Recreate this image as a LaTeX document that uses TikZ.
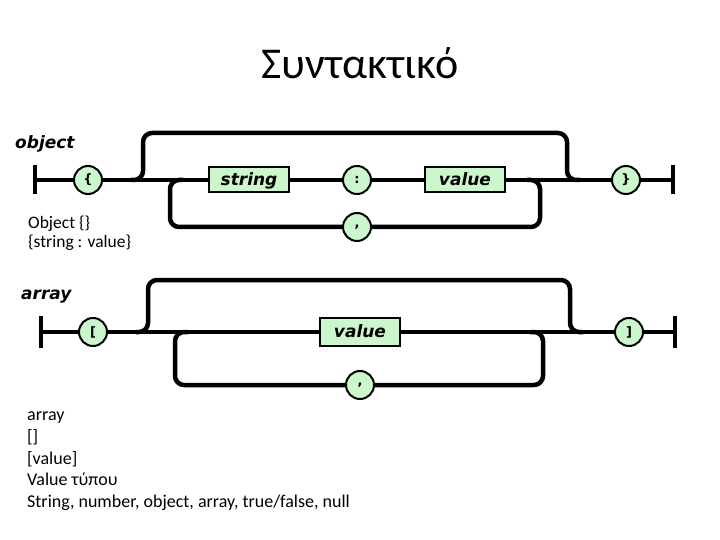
\documentclass[tikz,border=0pt]{standalone}
\usepackage{fontspec}
\setmainfont{Carlito}
\newfontfamily\railfont{DejaVu Sans}
\usetikzlibrary{positioning, calc}
\definecolor{railgreen}{RGB}{204,247,204}

\begin{document}
\begin{tikzpicture}[x=1pt, y=-1pt, node distance=52pt,
    track/.style={line width=4.5pt, rounded corners=9pt},
    stopbar/.style={line width=4pt},
    term/.style={circle, draw=black, fill=railgreen, line width=2pt, minimum size=28pt, inner sep=0pt, font=\railfont\fontsize{13}{13}\selectfont\bfseries},
    block/.style={rectangle, draw=black, fill=railgreen, line width=2pt, minimum width=80pt, minimum height=25pt, inner sep=0pt, text height=13pt, text depth=2.5pt, font=\railfont\fontsize{17}{17}\selectfont\bfseries\itshape},
    heading/.style={anchor=base west, inner sep=0pt, font=\railfont\fontsize{17}{17}\selectfont\bfseries\itshape},
    note/.style={anchor=north west, align=left, inner sep=0pt}]

    \useasboundingbox (0,0) rectangle (720,540);

    \node[anchor=base, inner sep=0pt] (title) at (360,79) {\fontsize{44}{44}\selectfont Συντακτικό};

    % object
    \node[heading] (objname) at (15,149) {object};
    \coordinate (ostart) at (35,180);
    \node[term] (olbrace) at (88,180) {\{};
    \node[block, right=105pt of olbrace] (ostring) {string};
    \node[term, right=of ostring] (ocolon) {:};
    \node[block, right=of ocolon] (ovalue) {value};
    \node[term, right=105pt of ovalue] (orbrace) {\}};
    \coordinate (oend) at (673,180);
    \node[term] (ocomma) at (ocolon |- 0,227) {,};

    \coordinate (osplit) at (131,180);
    \coordinate (otopL) at (143,133);
    \coordinate (otopR) at (567,133);
    \coordinate (ojoin) at (580,180);
    \coordinate (oback) at (527,180);
    \coordinate (olowR) at (540,227);
    \coordinate (olowL) at (170,227);
    \coordinate (ofwd) at (183,180);

    \draw[stopbar] ($(ostart)+(0,-15)$) -- ($(ostart)+(0,14)$);
    \draw[stopbar] ($(oend)+(0,-15)$) -- ($(oend)+(0,14)$);
    \draw[track] (ostart) -- (olbrace) -- (ostring) -- (ocolon) -- (ovalue) -- (orbrace) -- (oend);
    \draw[track] (osplit) -| (otopL) -- (otopR) |- (ojoin);
    \draw[track] (oback) -| (olowR) -- (ocomma);
    \draw[track] (ocomma) -- (olowL) |- (ofwd);

    \node[note, font=\fontsize{17.5}{19}\selectfont] (objnote) at (28,216) {Object \{\}\\\{string : value\}};

    % array
    \node[heading] (arrname) at (21,299) {array};
    \coordinate (astart) at (41,332);
    \node[term] (albrack) at (93,332) {[};
    \node[block, minimum height=28pt, right=211pt of albrack] (avalue) {value};
    \node[term, right=213pt of avalue] (arbrack) {]};
    \coordinate (aend) at (675,332);
    \node[term] (acomma) at (avalue |- 0,385) {,};

    \coordinate (asplit) at (136,332);
    \coordinate (atopL) at (148,280);
    \coordinate (atopR) at (570,280);
    \coordinate (ajoin) at (583,332);
    \coordinate (aback) at (530,332);
    \coordinate (alowR) at (543,385);
    \coordinate (alowL) at (175,385);
    \coordinate (afwd) at (188,332);

    \draw[stopbar] ($(astart)+(0,-16)$) -- ($(astart)+(0,16)$);
    \draw[stopbar] ($(aend)+(0,-16)$) -- ($(aend)+(0,16)$);
    \draw[track] (astart) -- (albrack) -- (avalue) -- (arbrack) -- (aend);
    \draw[track] (asplit) -| (atopL) -- (atopR) |- (ajoin);
    \draw[track] (aback) -| (alowR) -- (acomma);
    \draw[track] (acomma) -- (alowL) |- (afwd);

    \node[note, font=\fontsize{18}{21.6}\selectfont] (arrnote) at (27,412) {array\\{}[]\\{}[value]\\Value τύπου\\String, number, object, array, true/false, null};
\end{tikzpicture}
\end{document}
